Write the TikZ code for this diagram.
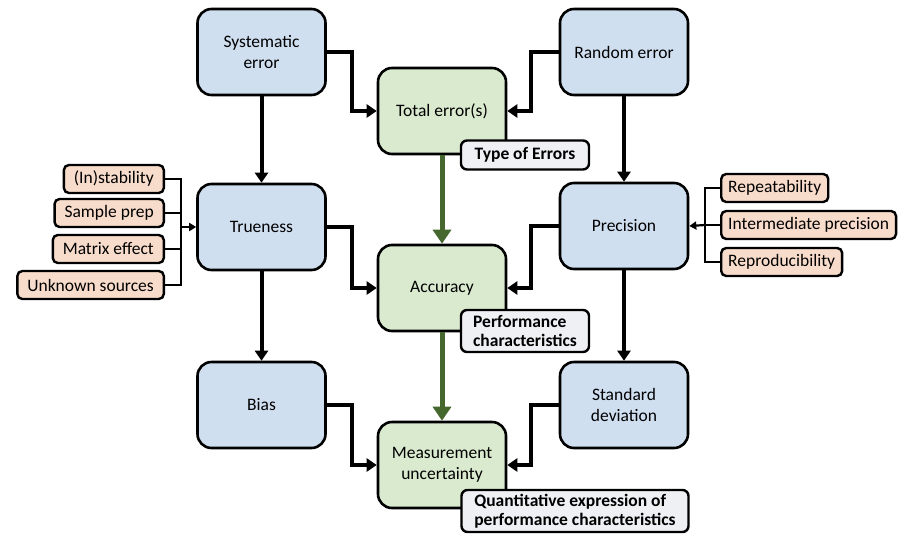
\documentclass[tikz,border=0pt]{standalone}
\usepackage{fontspec}
\setmainfont{Carlito}
\usetikzlibrary{arrows.meta,calc}
\definecolor{bluef}{HTML}{D0DFF0}
\definecolor{greenf}{HTML}{DAEACF}
\definecolor{orangef}{HTML}{F8DCCB}
\definecolor{grayf}{HTML}{EEF0F3}
\definecolor{darkgreen}{HTML}{46682F}
\begin{document}
\begin{tikzpicture}[x=1pt,y=-1pt,
  every node/.style={font=\fontsize{17.5}{21}\selectfont},
  mainbox/.style={draw=black,line width=2.6pt,rounded corners=14pt,minimum width=128pt,minimum height=86pt,align=center},
  bluebox/.style={mainbox,fill=bluef},
  greenbox/.style={mainbox,fill=greenf},
  tagbox/.style={draw=black,line width=2.4pt,rounded corners=6pt,fill=grayf,align=left,font=\fontsize{17.5}{19}\selectfont\bfseries,inner xsep=5pt,inner ysep=2pt},
  srcbox/.style={draw=black,line width=2.4pt,rounded corners=5pt,fill=orangef,minimum height=28pt,inner xsep=7pt,inner ysep=2pt,font=\fontsize{17.5}{21}\selectfont},
  conn/.style={line width=4pt,-{Triangle[length=10pt,width=13pt]}},
  bus/.style={line width=2.2pt},
  busarr/.style={line width=2.2pt,-{Triangle[length=7pt,width=8pt]}},
  garr/.style={line width=5pt,draw=darkgreen,-{Triangle[length=14pt,width=18pt]}}
]
\useasboundingbox (0,0) rectangle (901,538);
% main boxes
\node[bluebox] (sys) at (261.5,52) {Systematic\\error};
\node[bluebox] (rand) at (624,52) {Random error};
\node[bluebox] (true) at (261.5,227) {Trueness};
\node[bluebox] (prec) at (624,226) {Precision};
\node[bluebox] (bias) at (261.5,405) {Bias};
\node[bluebox] (std) at (624,405) {Standard\\deviation};
\node[greenbox] (tot) at (442,111) {Total error(s)};
\node[greenbox] (acc) at (442,288) {Accuracy};
\node[greenbox] (mu) at (442,465) {Measurement\\uncertainty};
% green arrows
\draw[garr] (tot.south) -- (acc.north);
\draw[garr] (acc.south) -- (mu.north);
% tag boxes
\node[tagbox,minimum width=128pt,minimum height=29pt] (t1) at (525,155) {Type of Errors};
\node[tagbox,minimum width=128pt,minimum height=42pt] (t2) at (525,331) {Performance\\characteristics};
\node[tagbox,minimum width=227pt,minimum height=42pt] (t3) at (575,511) {Quantitative expression of\\performance characteristics};
% elbow connectors
\draw[conn] (sys.east) -- (352,52) -- (352,111) -- (tot.west);
\draw[conn] (rand.west) -- (531,52) -- (531,111) -- (tot.east);
\draw[conn] (true.east) -- (352,227) -- (352,288) -- (acc.west);
\draw[conn] (prec.west) -- (531,226) -- (531,288) -- (acc.east);
\draw[conn] (bias.east) -- (352,405) -- (352,465) -- (mu.west);
\draw[conn] (std.west) -- (531,405) -- (531,465) -- (mu.east);
\draw[conn] (sys.south) -- (true.north);
\draw[conn] (rand.south) -- (prec.north);
\draw[conn] (true.south) -- (bias.north);
\draw[conn] (prec.south) -- (std.north);
% left sources
\node[srcbox,anchor=east,inner xsep=10pt] (s1) at (165,179) {(In)stability};
\node[srcbox,anchor=east,inner xsep=10pt] (s2) at (165,213) {Sample prep};
\node[srcbox,anchor=east,inner xsep=10pt] (s3) at (165,249) {Matrix effect};
\node[srcbox,anchor=east,inner xsep=10pt] (s4) at (165,285) {Unknown sources};
\coordinate (lb) at (181,227);
\draw[bus] (s1.east) -- (181,179) -- (181,285) -- (s4.east);
\draw[bus] (s2.east) -- (181,213);
\draw[bus] (s3.east) -- (181,249);
\draw[busarr] (lb) -- (true.west);
% right sources
\node[srcbox,anchor=west] (r1) at (720,188) {Repeatability};
\node[srcbox,anchor=west] (r2) at (720,225) {Intermediate precision};
\node[srcbox,anchor=west] (r3) at (720,262) {Reproducibility};
\coordinate (rb) at (705,225);
\draw[bus] (r1.west) -- (705,188) -- (705,262) -- (r3.west);
\draw[bus] (r2.west) -- (rb);
\draw[busarr] (rb) -- (prec.east);
\end{tikzpicture}
\end{document}
